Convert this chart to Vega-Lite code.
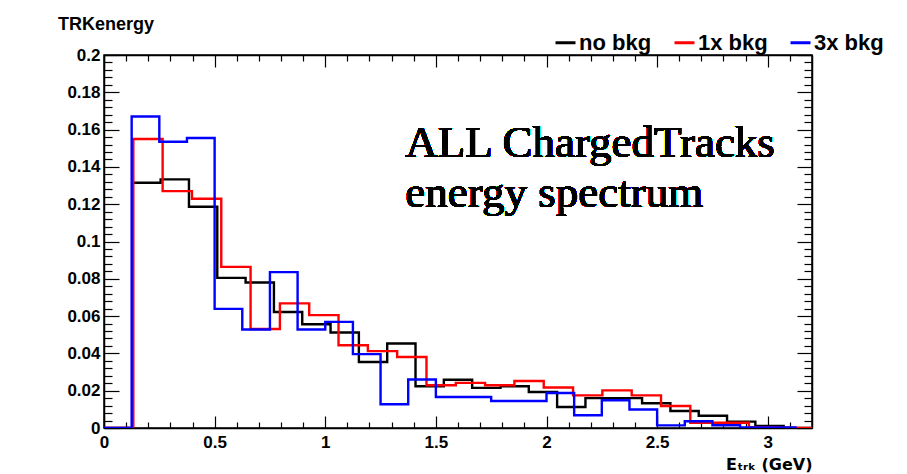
{
  "$schema": "https://vega.github.io/schema/vega-lite/v6.json",
  "width": 708,
  "height": 373,
  "autosize": {"type": "none"},
  "padding": {"left": 104, "top": 55, "right": 95, "bottom": 46},
  "background": "white",
  "config": {
    "view": {"stroke": "black", "strokeWidth": 1.5},
    "axis": {"domainColor": "black", "domainWidth": 1.5, "tickColor": "black", "tickWidth": 1.2, "labelFont": "Liberation Sans", "labelFontWeight": "bold", "labelFontSize": 17, "labelColor": "black", "grid": false, "labelOverlap": false, "labelFlush": false, "labelBound": false}
  },
  "title": {"text": "TRKenergy", "anchor": "start", "frame": "group", "dx": -46, "dy": 4, "font": "Liberation Sans", "fontWeight": "bold", "fontSize": 18, "offset": 1, "color": "black"},
  "data": {"values": [
    {"s": "no bkg", "x": 0, "y": 0},
    {"s": "no bkg", "x": 0.128, "y": 0.1315},
    {"s": "no bkg", "x": 0.256, "y": 0.1333},
    {"s": "no bkg", "x": 0.384, "y": 0.1186},
    {"s": "no bkg", "x": 0.512, "y": 0.0805},
    {"s": "no bkg", "x": 0.64, "y": 0.078},
    {"s": "no bkg", "x": 0.768, "y": 0.0622},
    {"s": "no bkg", "x": 0.896, "y": 0.0556},
    {"s": "no bkg", "x": 1.024, "y": 0.0512},
    {"s": "no bkg", "x": 1.152, "y": 0.0354},
    {"s": "no bkg", "x": 1.28, "y": 0.0453},
    {"s": "no bkg", "x": 1.408, "y": 0.0224},
    {"s": "no bkg", "x": 1.536, "y": 0.0259},
    {"s": "no bkg", "x": 1.664, "y": 0.0215},
    {"s": "no bkg", "x": 1.792, "y": 0.0224},
    {"s": "no bkg", "x": 1.92, "y": 0.0193},
    {"s": "no bkg", "x": 2.048, "y": 0.0113},
    {"s": "no bkg", "x": 2.176, "y": 0.016},
    {"s": "no bkg", "x": 2.304, "y": 0.016},
    {"s": "no bkg", "x": 2.432, "y": 0.0133},
    {"s": "no bkg", "x": 2.56, "y": 0.0091},
    {"s": "no bkg", "x": 2.688, "y": 0.0066},
    {"s": "no bkg", "x": 2.816, "y": 0.0034},
    {"s": "no bkg", "x": 2.944, "y": 0.0011},
    {"s": "no bkg", "x": 3.072, "y": 0},
    {"s": "no bkg", "x": 3.2, "y": 0},
    {"s": "1x bkg", "x": 0, "y": 0},
    {"s": "1x bkg", "x": 0.1325, "y": 0.155},
    {"s": "1x bkg", "x": 0.265, "y": 0.127},
    {"s": "1x bkg", "x": 0.3975, "y": 0.1229},
    {"s": "1x bkg", "x": 0.53, "y": 0.0864},
    {"s": "1x bkg", "x": 0.6625, "y": 0.0531},
    {"s": "1x bkg", "x": 0.795, "y": 0.0668},
    {"s": "1x bkg", "x": 0.9275, "y": 0.0605},
    {"s": "1x bkg", "x": 1.06, "y": 0.0444},
    {"s": "1x bkg", "x": 1.1925, "y": 0.0412},
    {"s": "1x bkg", "x": 1.325, "y": 0.0381},
    {"s": "1x bkg", "x": 1.4575, "y": 0.0229},
    {"s": "1x bkg", "x": 1.59, "y": 0.0242},
    {"s": "1x bkg", "x": 1.7225, "y": 0.0229},
    {"s": "1x bkg", "x": 1.855, "y": 0.0252},
    {"s": "1x bkg", "x": 1.9875, "y": 0.0217},
    {"s": "1x bkg", "x": 2.12, "y": 0.0175},
    {"s": "1x bkg", "x": 2.2525, "y": 0.0202},
    {"s": "1x bkg", "x": 2.385, "y": 0.0175},
    {"s": "1x bkg", "x": 2.5175, "y": 0.0118},
    {"s": "1x bkg", "x": 2.65, "y": 0.0028},
    {"s": "1x bkg", "x": 2.7825, "y": 0.0028},
    {"s": "1x bkg", "x": 2.915, "y": 0.0004},
    {"s": "1x bkg", "x": 3.0475, "y": 0},
    {"s": "1x bkg", "x": 3.2, "y": 0},
    {"s": "3x bkg", "x": 0, "y": 0},
    {"s": "3x bkg", "x": 0.125, "y": 0.167},
    {"s": "3x bkg", "x": 0.25, "y": 0.1535},
    {"s": "3x bkg", "x": 0.375, "y": 0.1555},
    {"s": "3x bkg", "x": 0.5, "y": 0.0639},
    {"s": "3x bkg", "x": 0.625, "y": 0.0528},
    {"s": "3x bkg", "x": 0.75, "y": 0.0836},
    {"s": "3x bkg", "x": 0.875, "y": 0.0528},
    {"s": "3x bkg", "x": 1.0, "y": 0.0569},
    {"s": "3x bkg", "x": 1.125, "y": 0.0396},
    {"s": "3x bkg", "x": 1.25, "y": 0.0127},
    {"s": "3x bkg", "x": 1.375, "y": 0.026},
    {"s": "3x bkg", "x": 1.5, "y": 0.0166},
    {"s": "3x bkg", "x": 1.625, "y": 0.0166},
    {"s": "3x bkg", "x": 1.75, "y": 0.0145},
    {"s": "3x bkg", "x": 1.875, "y": 0.0145},
    {"s": "3x bkg", "x": 2.0, "y": 0.0188},
    {"s": "3x bkg", "x": 2.125, "y": 0.0068},
    {"s": "3x bkg", "x": 2.25, "y": 0.0149},
    {"s": "3x bkg", "x": 2.375, "y": 0.0099},
    {"s": "3x bkg", "x": 2.5, "y": 0.0014},
    {"s": "3x bkg", "x": 2.625, "y": 0.0036},
    {"s": "3x bkg", "x": 2.75, "y": 0.0015},
    {"s": "3x bkg", "x": 2.875, "y": 0.0003},
    {"s": "3x bkg", "x": 3.0, "y": 0.0003},
    {"s": "3x bkg", "x": 3.125, "y": 0}
  ]},
  "layer": [
    {
      "mark": {"type": "line", "interpolate": "step-after", "strokeWidth": 2.4, "clip": true},
      "encoding": {
        "x": {"field": "x", "type": "quantitative", "scale": {"domain": [0, 3.2], "nice": false, "zero": false},
          "axis": {"orient": "bottom",
            "values": [0,0.1,0.2,0.3,0.4,0.5,0.6,0.7,0.8,0.9,1,1.1,1.2,1.3,1.4,1.5,1.6,1.7,1.8,1.9,2,2.1,2.2,2.3,2.4,2.5,2.6,2.7,2.8,2.9,3,3.1],
            "labelExpr": "abs(datum.value*2-round(datum.value*2))<0.001 ? ''+round(datum.value*10)/10 : ''",
            "tickSize": {"condition": {"test": "abs(datum.value*2-round(datum.value*2))<0.001", "value": -12}, "value": -6},
            "labelPadding": 18,
            "title": "Eₜᵣₖ (GeV)", "titleAnchor": "end", "titleFont": "DejaVu Sans", "titleFontWeight": "bold", "titleFontSize": 16, "titleColor": "black", "titlePadding": 0}},
        "y": {"field": "y", "type": "quantitative", "scale": {"domain": [0, 0.2], "nice": false},
          "axis": {"orient": "left",
            "values": [0,0.004,0.008,0.012,0.016,0.02,0.024,0.028,0.032,0.036,0.04,0.044,0.048,0.052,0.056,0.06,0.064,0.068,0.072,0.076,0.08,0.084,0.088,0.092,0.096,0.1,0.104,0.108,0.112,0.116,0.12,0.124,0.128,0.132,0.136,0.14,0.144,0.148,0.152,0.156,0.16,0.164,0.168,0.172,0.176,0.18,0.184,0.188,0.192,0.196,0.2],
            "labelExpr": "abs(datum.value*50-round(datum.value*50))<0.001 ? ''+round(datum.value*100)/100 : ''",
            "tickSize": {"condition": {"test": "abs(datum.value*50-round(datum.value*50))<0.001", "value": -15}, "value": -8},
            "labelPadding": 19,
            "title": null}},
        "color": {"field": "s", "type": "nominal",
          "scale": {"domain": ["no bkg", "1x bkg", "3x bkg"], "range": ["#000000", "#ff0000", "#0000ff"]},
          "legend": {"orient": "none", "legendX": 450, "legendY": -24, "direction": "horizontal", "title": null,
            "symbolType": "stroke", "symbolStrokeWidth": 3, "symbolSize": 400,
            "labelFont": "Liberation Sans", "labelFontWeight": "bold", "labelFontSize": 22, "labelColor": "black",
            "labelOffset": 2, "columnPadding": 16, "labelLimit": 0}}
      }
    },
    {
      "mark": {"type": "line", "strokeOpacity": 0},
      "encoding": {
        "x": {"field": "x", "type": "quantitative",
          "axis": {"orient": "top", "labels": false, "title": null,
            "values": [0,0.1,0.2,0.3,0.4,0.5,0.6,0.7,0.8,0.9,1,1.1,1.2,1.3,1.4,1.5,1.6,1.7,1.8,1.9,2,2.1,2.2,2.3,2.4,2.5,2.6,2.7,2.8,2.9,3,3.1],
            "tickSize": {"condition": {"test": "abs(datum.value*2-round(datum.value*2))<0.001", "value": -12}, "value": -6}}},
        "y": {"field": "y", "type": "quantitative",
          "axis": {"orient": "right", "labels": false, "title": null,
            "values": [0,0.004,0.008,0.012,0.016,0.02,0.024,0.028,0.032,0.036,0.04,0.044,0.048,0.052,0.056,0.06,0.064,0.068,0.072,0.076,0.08,0.084,0.088,0.092,0.096,0.1,0.104,0.108,0.112,0.116,0.12,0.124,0.128,0.132,0.136,0.14,0.144,0.148,0.152,0.156,0.16,0.164,0.168,0.172,0.176,0.18,0.184,0.188,0.192,0.196,0.2],
            "tickSize": {"condition": {"test": "abs(datum.value*50-round(datum.value*50))<0.001", "value": -15}, "value": -8}}}
      }
    },
    {
      "mark": {"type": "text", "text": ["ALL ChargedTracks", "energy spectrum"], "font": "Liberation Serif", "fontSize": 45, "lineHeight": 50, "align": "left", "baseline": "alphabetic", "color": "black"},
      "encoding": {
        "x": {"datum": 1.362, "type": "quantitative", "axis": null},
        "y": {"datum": 0.1455, "type": "quantitative", "axis": null}
      }
    }
  ],
  "resolve": {"axis": {"x": "independent", "y": "independent"}}
}
